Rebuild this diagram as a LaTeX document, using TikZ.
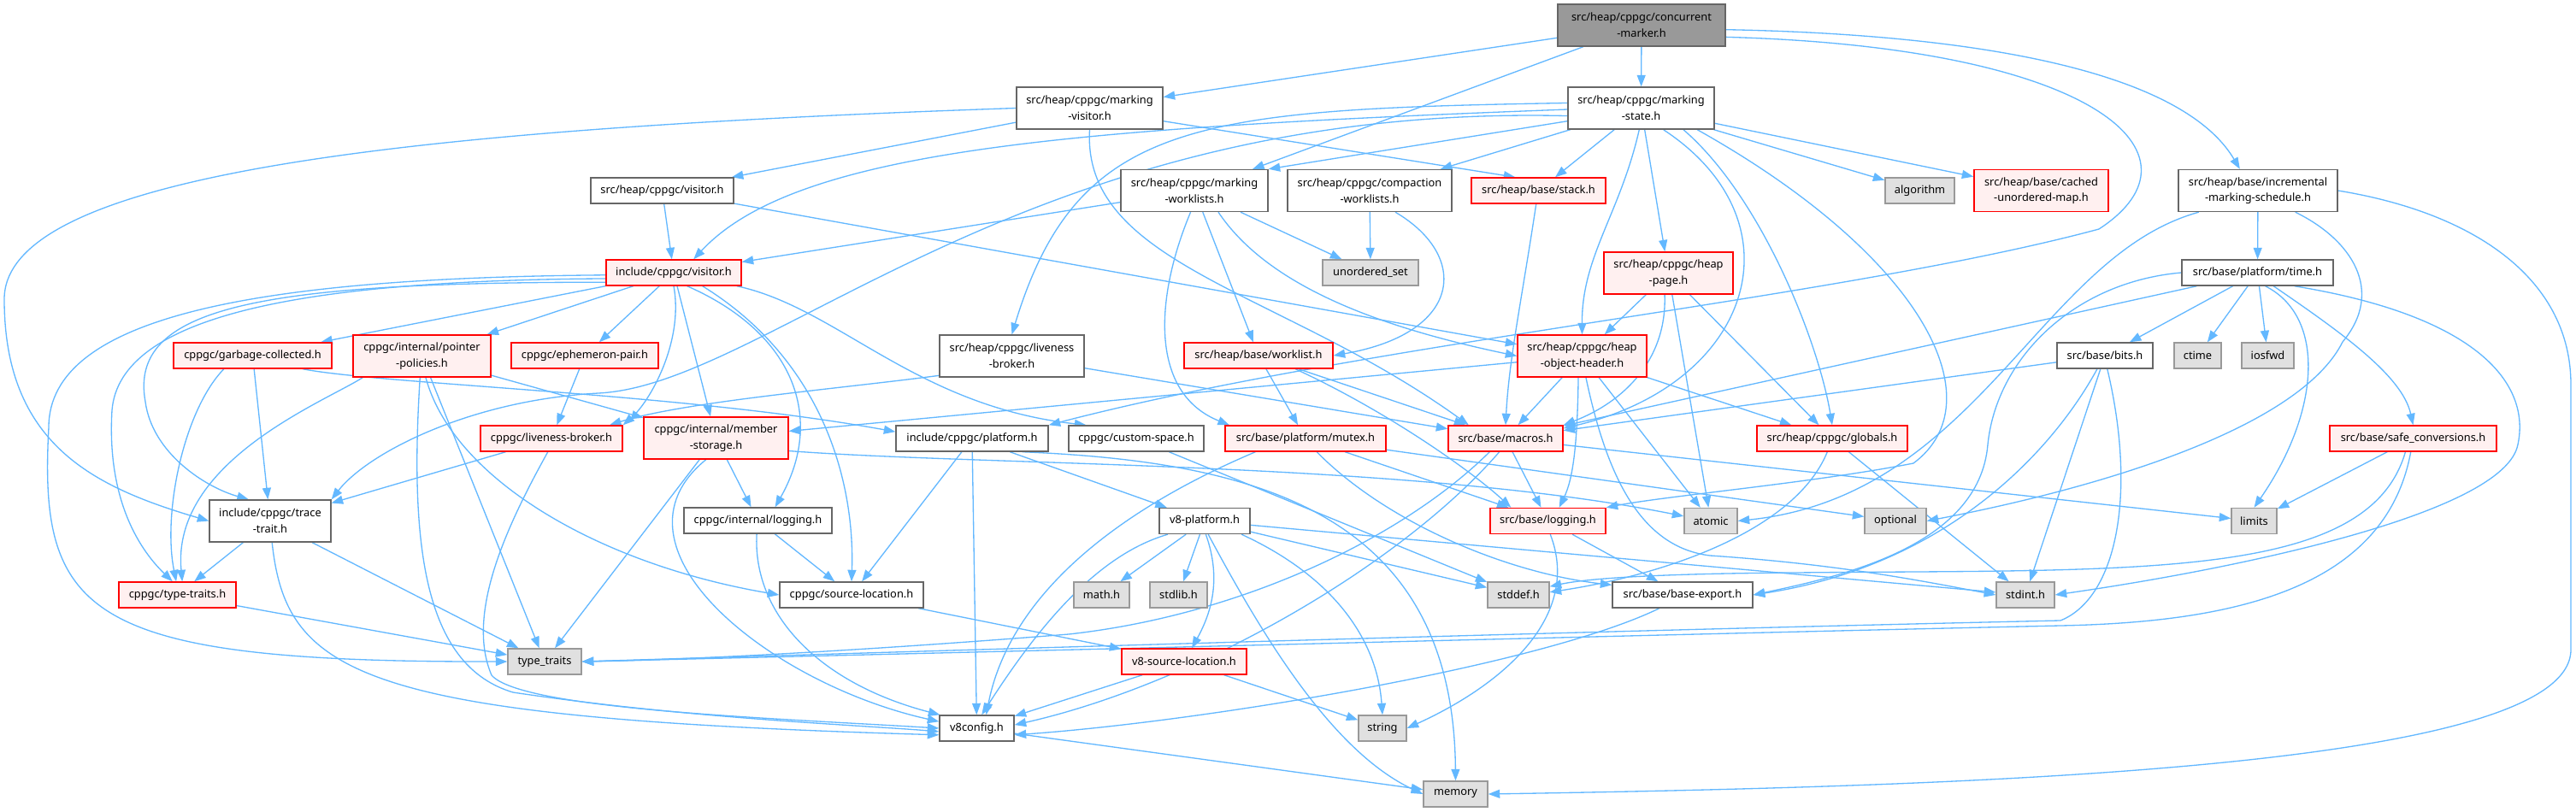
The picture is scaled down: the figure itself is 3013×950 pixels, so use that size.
\documentclass[tikz,border=0pt]{standalone}
\usepackage{fontspec}
\setmainfont{Noto Sans}
\usetikzlibrary{arrows.meta}
\pgfdeclarelayer{bg}
\pgfsetlayers{bg,main}
\definecolor{edgec}{HTML}{63B8FF}
\definecolor{bordgray}{HTML}{666666}
\definecolor{bordred}{HTML}{FF0000}
\definecolor{fillred}{HTML}{FFF0F0}
\definecolor{bordlgray}{HTML}{999999}
\definecolor{filllgray}{HTML}{E0E0E0}
\definecolor{fillmain}{HTML}{999999}
\tikzset{
  nb/.style={draw, line width=0.8pt, inner sep=0pt, align=center, font=\fontsize{7.3}{10.6}\selectfont, text=black},
  wn/.style={nb, draw=bordgray, fill=white},
  rn/.style={nb, draw=bordred, fill=fillred},
  gn/.style={nb, draw=bordlgray, fill=filllgray},
  mainn/.style={nb, draw=bordgray, fill=fillmain},
  bw/.style={minimum width=#1*0.02cm},
  h1/.style={minimum height=0.6cm},
  h2/.style={minimum height=0.98cm},
  edg/.style={draw=edgec, line width=0.75pt, -{Triangle[length=0.27cm,width=0.2cm]}},
}
\begin{document}
\begin{tikzpicture}[x=0.02cm,y=-0.02cm]
\useasboundingbox (0,0) rectangle (3013,950);
% nodes
\node[mainn,bw=196,h2] (CM) at (1920,29.5) {src/heap/cppgc/concurrent\\-marker.h};
\node[wn,bw=171,h2] (MV) at (1274.5,126.5) {src/heap/cppgc/marking\\-visitor.h};
\node[wn,bw=171,h2] (MS) at (1919.5,126.5) {src/heap/cppgc/marking\\-state.h};
\node[wn,bw=186,h2] (IMS) at (2641,223) {src/heap/base/incremental\\-marking-schedule.h};
\node[wn,bw=167,h1] (SV) at (774.5,223) {src/heap/cppgc/visitor.h};
\node[wn,bw=172,h2] (MW) at (1397,223) {src/heap/cppgc/marking\\-worklists.h};
\node[wn,bw=192,h2] (CW) at (1602,223) {src/heap/cppgc/compaction\\-worklists.h};
\node[rn,bw=157,h1] (ST) at (1799.5,223) {src/heap/base/stack.h};
\node[gn,bw=81,h1] (ALG) at (2245.5,223) {algorithm};
\node[rn,bw=157,h2] (CUM) at (2387.5,223) {src/heap/base/cached\\-unordered-map.h};
\node[rn,bw=158,h1] (IV) at (788,319) {include/cppgc/visitor.h};
\node[gn,bw=112,h1] (US) at (1603,319) {unordered\_set};
\node[rn,bw=151,h2] (HP) at (1951.5,319.5) {src/heap/cppgc/heap\\-page.h};
\node[wn,bw=177,h1] (TM) at (2640.5,319) {src/base/platform/time.h};
\node[rn,bw=185,h1] (GC) at (295.5,416) {cppgc/garbage-collected.h};
\node[rn,bw=161,h2] (PP) at (493.5,416.5) {cppgc/internal/pointer\\-policies.h};
\node[rn,bw=172,h1] (EP) at (684,416) {cppgc/ephemeron-pair.h};
\node[wn,bw=169,h2] (SLB) at (1183.5,416.5) {src/heap/cppgc/liveness\\-broker.h};
\node[rn,bw=174,h1] (WL) at (1472,416) {src/heap/base/worklist.h};
\node[rn,bw=151,h2] (HOH) at (1850.5,416.5) {src/heap/cppgc/heap\\-object-header.h};
\node[wn,bw=112,h1] (BI) at (2462,416) {src/base/bits.h};
\node[gn,bw=55,h1] (CT) at (2570.5,416) {ctime};
\node[gn,bw=61,h1] (IO) at (2652.5,416) {iosfwd};
\node[rn,bw=166,h1] (LB) at (645,513) {cppgc/liveness-broker.h};
\node[rn,bw=169,h2] (MST) at (837.5,512.5) {cppgc/internal/member\\-storage.h};
\node[wn,bw=178,h1] (PL) at (1137,513) {include/cppgc/platform.h};
\node[wn,bw=158,h1] (CS) at (1329,513) {cppgc/custom-space.h};
\node[rn,bw=188,h1] (MUT) at (1527,513) {src/base/platform/mutex.h};
\node[rn,bw=134,h1] (MAC) at (1761,513) {src/base/macros.h};
\node[rn,bw=176,h1] (GL) at (2143,513) {src/heap/cppgc/globals.h};
\node[rn,bw=195,h1] (SC) at (2822.5,513) {src/base/safe\_conversions.h};
\node[wn,bw=142,h2] (TT) at (316,609.5) {include/cppgc/trace\\-trait.h};
\node[wn,bw=173,h1] (ILOG) at (886.5,609) {cppgc/internal/logging.h};
\node[wn,bw=106,h1] (VP) at (1409,609.5) {v8-platform.h};
\node[rn,bw=135,h1] (LOG) at (1810.5,609.5) {src/base/logging.h};
\node[gn,bw=62,h1] (AT) at (2001,609.5) {atomic};
\node[gn,bw=72,h1] (OPT) at (2217,609.5) {optional};
\node[gn,bw=53,h1] (LIM) at (2636.5,609.5) {limits};
\node[rn,bw=137,h1] (TYT) at (207.5,696) {cppgc/type-traits.h};
\node[wn,bw=168,h1] (SL) at (996,696) {cppgc/source-location.h};
\node[gn,bw=65,h1] (MATH) at (1288.5,696) {math.h};
\node[gn,bw=67,h1] (SLIB) at (1378.5,696) {stdlib.h};
\node[gn,bw=72,h1] (SDEF) at (1776,696) {stddef.h};
\node[wn,bw=164,h1] (BE) at (1968,696) {src/base/base-export.h};
\node[gn,bw=68,h1] (SINT) at (2369,696) {stdint.h};
\node[gn,bw=86,h1] (STT) at (637,774) {type\_traits};
\node[rn,bw=146,h1] (VSL) at (1385,774) {v8-source-location.h};
\node[wn,bw=87,h1] (V8C) at (1142.5,852) {v8config.h};
\node[gn,bw=56,h1] (STR) at (1617,852) {string};
\node[gn,bw=75,h1] (MEM) at (1702.5,929) {memory};
% edges
\begin{pgfonlayer}{bg}
\fill[white] (0,0) rectangle (3013,950);
% CM
\draw[edg] (CM) -- (MV);
\draw[edg] (CM) -- (MS);
\draw[edg] (CM) -- (MW);
\draw[edg] (CM.-3) .. controls (2300,40) and (2550,80) .. (IMS.130);
\draw[edg] (CM.-8) .. controls (2450,55) and (2590,180) .. (2455,268) .. controls (2150,350) and (1600,400) .. (PL.north east);
% MV
\draw[edg] (MV) -- (SV);
\draw[edg] (MV.-10) -- (ST.150);
\draw[edg] (MV.west) .. controls (500,150) and (5,200) .. (5,350) .. controls (5,520) and (110,570) .. (TT.west);
\draw[edg] (MV.south) .. controls (1265,310) and (1500,340) .. (MAC.160);
% MS
\draw[edg] (MS.190) -- (MW.north east);
\draw[edg] (MS) -- (CW);
\draw[edg] (MS) -- (ST);
\draw[edg] (MS) -- (HP);
\draw[edg] (MS) -- (ALG);
\draw[edg] (MS) -- (CUM);
\draw[edg] (MS.-95) .. controls (1895,250) and (1850,300) .. (HOH.north);
\draw[edg] (MS.-27) .. controls (2060,230) and (2127,400) .. (GL.north);
\draw[edg] (MS.-44) .. controls (2110,260) and (2050,450) .. (MAC.10);
\draw[edg] (MS.-21) .. controls (2250,300) and (2335,470) .. (2238,542) .. controls (2120,565) and (1950,580) .. (LOG.north east);
\draw[edg] (MS.176) .. controls (1400,128) and (1260,140) .. (SLB.north);
\draw[edg] (MS.181) .. controls (1250,150) and (930,175) .. (IV.34);
\draw[edg] (MS.186) .. controls (1200,120) and (900,450) .. (700,460) .. controls (550,468) and (430,530) .. (TT.north east);
% IMS
\draw[edg] (IMS) -- (TM);
\draw[edg] (IMS.-160) .. controls (2385,300) and (2315,580) .. (AT.east);
\draw[edg] (IMS.-30) .. controls (2750,280) and (2790,340) .. (2740,400) .. controls (2690,500) and (2460,570) .. (OPT.east);
\draw[edg] (IMS.east) .. controls (2900,250) and (3007,330) .. (3007,450) -- (3007,760) .. controls (3007,900) and (2300,920) .. (MEM.east);
% TM
\draw[edg] (TM) -- (BI);
\draw[edg] (TM) -- (CT);
\draw[edg] (TM) -- (IO);
\draw[edg] (TM.-60) .. controls (2720,370) and (2715,480) .. (LIM.north);
\draw[edg] (TM.-40) .. controls (2740,390) and (2810,440) .. (SC.north);
\draw[edg] (TM) -- (MAC);
\draw[edg] (TM.west) .. controls (2425,330) and (2335,420) .. (2325,520) .. controls (2315,640) and (2150,675) .. (BE.east);
\draw[edg] (TM.-20) .. controls (2900,370) and (2960,450) .. (2945,520) .. controls (2930,600) and (2620,665) .. (SINT.east);
% BI
\draw[edg] (BI) -- (MAC);
\draw[edg] (BI) -- (SINT);
\draw[edg] (BI.-120) .. controls (2405,520) and (2285,660) .. (BE.east);
\draw[edg] (BI.-80) .. controls (2500,580) and (2475,700) .. (2410,726) .. controls (2000,735) and (1400,752) .. (STT.east);
% SC
\draw[edg] (SC) -- (LIM);
\draw[edg] (SC.-120) .. controls (2770,680) and (2500,666) .. (2100,670) .. controls (1950,671) and (1860,676) .. (SDEF.15);
\draw[edg] (SC.-100) .. controls (2790,690) and (2610,728) .. (2410,732) .. controls (2000,741) and (1400,757) .. (STT.east);
% GL
\draw[edg] (GL) -- (SINT);
\draw[edg] (GL.-110) .. controls (2100,620) and (1950,672) .. (SDEF.5);
% HOH
\draw[edg] (HOH) -- (MST);
\draw[edg] (HOH) -- (MAC);
\draw[edg] (HOH.-100) .. controls (1845,520) and (1840,560) .. (LOG.50);
\draw[edg] (HOH) -- (AT);
\draw[edg] (HOH) -- (GL);
\draw[edg] (HOH.-80) .. controls (1880,560) and (1920,640) .. (2000,650) .. controls (2150,660) and (2250,680) .. (SINT.west);
% HP
\draw[edg] (HP) -- (HOH);
\draw[edg] (HP.-100) .. controls (1950,420) and (1900,470) .. (MAC.north east);
\draw[edg] (HP) -- (AT);
\draw[edg] (HP) -- (GL);
% ST
\draw[edg] (ST.-100) .. controls (1780,350) and (1765,420) .. (MAC.north);
% CW
\draw[edg] (CW) -- (US);
\draw[edg] (CW.-40) .. controls (1720,300) and (1710,390) .. (WL.east);
% MW
\draw[edg] (MW) -- (IV);
\draw[edg] (MW) -- (US);
\draw[edg] (MW) -- (WL);
\draw[edg] (MW.-42) .. controls (1480,330) and (1600,380) .. (HOH.west);
\draw[edg] (MW.-100) .. controls (1350,350) and (1345,460) .. (MUT.170);
% SV
\draw[edg] (SV) -- (IV);
\draw[edg] (SV) -- (HOH);
% IV
\draw[edg] (IV) -- (GC);
\draw[edg] (IV) -- (PP);
\draw[edg] (IV) -- (EP);
\draw[edg] (IV.-90) .. controls (800,400) and (760,470) .. (LB.north east);
\draw[edg] (IV) -- (MST);
\draw[edg] (IV.-45) .. controls (930,390) and (965,490) .. (ILOG.38);
\draw[edg] (IV.-25) .. controls (960,420) and (1000,560) .. (SL.north);
\draw[edg] (IV.-12) .. controls (980,360) and (1070,475) .. (CS.165);
\draw[edg] (IV.182) .. controls (300,325) and (57,370) .. (57,500) .. controls (45,720) and (100,775) .. (STT.west);
\draw[edg] (IV.185) .. controls (350,328) and (140,370) .. (131,480) .. controls (125,580) and (160,640) .. (TYT.110);
\draw[edg] (IV.188) .. controls (300,330) and (150,360) .. (170,470) .. controls (178,530) and (240,570) .. (TT.135);
% GC
\draw[edg] (GC) -- (TT);
\draw[edg] (GC.-155) .. controls (215,480) and (190,600) .. (TYT.95);
\draw[edg] (GC.-15) .. controls (450,450) and (800,460) .. (PL.175);
% PP
\draw[edg] (PP) -- (MST);
\draw[edg] (PP.-160) .. controls (380,470) and (200,540) .. (TYT.70);
\draw[edg] (PP.-80) .. controls (530,560) and (700,660) .. (SL.west);
\draw[edg] (PP.-95) .. controls (478,650) and (500,780) .. (600,810) .. controls (800,840) and (1000,848) .. (V8C.185);
\draw[edg] (PP) -- (STT);
% EP
\draw[edg] (EP) -- (LB);
% LB
\draw[edg] (LB) -- (TT);
\draw[edg] (LB.-105) .. controls (590,620) and (545,720) .. (575,790) .. controls (610,830) and (900,840) .. (V8C.180);
% MST
\draw[edg] (MST) -- (ILOG);
\draw[edg] (MST) -- (STT);
\draw[edg] (MST.-115) .. controls (700,640) and (900,800) .. (V8C.170);
\draw[edg] (MST.-10) .. controls (1150,545) and (1650,540) .. (AT.170);
% ILOG
\draw[edg] (ILOG) -- (SL);
\draw[edg] (ILOG.-95) .. controls (880,720) and (960,800) .. (V8C.160);
% TT
\draw[edg] (TT) -- (TYT);
\draw[edg] (TT) -- (STT);
\draw[edg] (TT.-85) .. controls (335,790) and (420,840) .. (V8C.190);
% TYT
\draw[edg] (TYT) -- (STT);
% PL
\draw[edg] (PL) -- (SL);
\draw[edg] (PL) -- (V8C);
\draw[edg] (PL) -- (VP);
\draw[edg] (PL.-15) .. controls (1470,540) and (1700,600) .. (MEM.north);
% CS
\draw[edg] (CS) -- (SDEF);
% MUT
\draw[edg] (MUT.-165) .. controls (1300,600) and (1180,700) .. (V8C.55);
\draw[edg] (MUT) -- (LOG);
\draw[edg] (MUT.-50) .. controls (1620,610) and (1760,670) .. (BE.172);
\draw[edg] (MUT) -- (OPT);
% MAC
\draw[edg] (MAC) -- (LOG);
\draw[edg] (MAC.-115) .. controls (1640,660) and (1400,800) .. (V8C.5);
\draw[edg] (MAC.-140) .. controls (1640,630) and (1450,720) .. (1250,742) .. controls (1000,762) and (800,772) .. (STT.east);
\draw[edg] (MAC) -- (LIM);
% LOG
\draw[edg] (LOG) -- (BE);
\draw[edg] (LOG.-80) .. controls (1850,720) and (1760,800) .. (STR.east);
% BE
\draw[edg] (BE.-150) .. controls (1800,780) and (1400,845) .. (V8C.-10);
% VP
\draw[edg] (VP) -- (MATH);
\draw[edg] (VP) -- (SLIB);
\draw[edg] (VP) -- (SDEF);
\draw[edg] (VP) -- (SINT);
\draw[edg] (VP.-20) .. controls (1550,670) and (1610,740) .. (STR.north);
\draw[edg] (VP.-75) .. controls (1480,750) and (1560,880) .. (MEM.west);
\draw[edg] (VP.-85) .. controls (1430,680) and (1415,720) .. (VSL.60);
\draw[edg] (VP.-160) .. controls (1280,650) and (1210,740) .. (V8C.70);
% VSL
\draw[edg] (VSL) -- (V8C);
\draw[edg] (VSL) -- (STR);
% V8C
\draw[edg] (V8C) -- (MEM);
% SL
\draw[edg] (SL) -- (VSL);
% SLB
\draw[edg] (SLB.-165) .. controls (980,455) and (800,470) .. (LB.13);
\draw[edg] (SLB) -- (MAC);
% WL
\draw[edg] (WL) -- (MUT);
\draw[edg] (WL) -- (MAC);
\draw[edg] (WL.-20) .. controls (1620,480) and (1720,550) .. (LOG.160);
\end{pgfonlayer}
\end{tikzpicture}
\end{document}
